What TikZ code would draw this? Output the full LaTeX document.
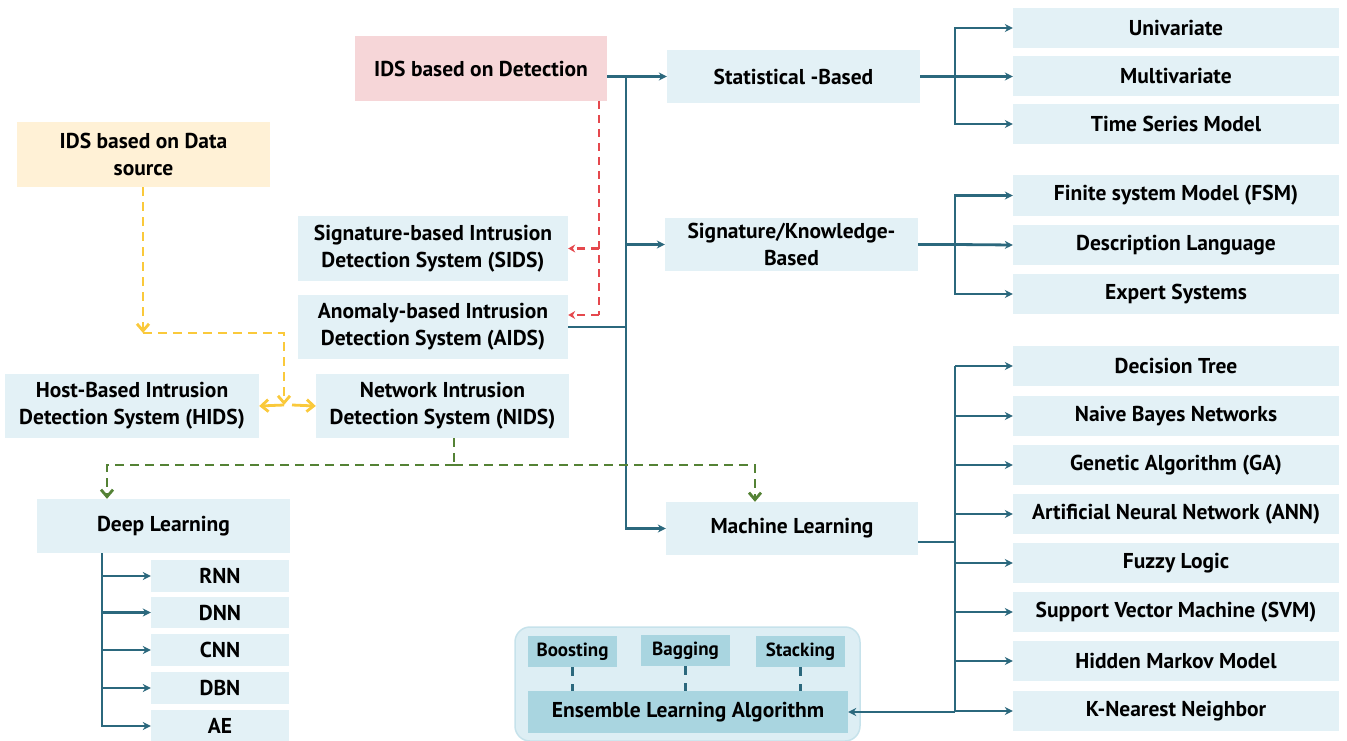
\documentclass[tikz,border=0pt]{standalone}
\usepackage{fontspec}
\setmainfont{PT Sans}
\usetikzlibrary{arrows.meta,positioning}

\definecolor{lineblue}{HTML}{2B687D}
\definecolor{boxblue}{HTML}{E3F1F6}
\definecolor{darkbox}{HTML}{A9D5E0}
\definecolor{groupblue}{HTML}{DDEEF4}
\definecolor{groupedge}{HTML}{C6E2EB}
\definecolor{boxpink}{HTML}{F6D6D8}
\definecolor{boxyellow}{HTML}{FFF1D6}
\definecolor{dashred}{HTML}{E5484D}
\definecolor{dashyellow}{HTML}{FAC93B}
\definecolor{dashgreen}{HTML}{548235}

\begin{document}
\begin{tikzpicture}[x=1pt,y=-1pt,
  box/.style 2 args={fill=boxblue, inner sep=0pt, align=center, minimum width=#1pt, minimum height=#2pt,
    font=\bfseries\fontsize{21.5}{27}\selectfont},
  smallbox/.style={box={89}{31}, fill=darkbox, font=\bfseries\fontsize{19}{22}\selectfont},
  tline/.style={draw=lineblue, line width=2.8pt},
  tarrow/.style={tline, -{Stealth[length=8pt,width=8pt]}},
  rdash/.style={draw=dashred, line width=2.2pt, dash pattern=on 8pt off 6pt, -{Stealth[length=7pt,width=8pt]}},
  ydash/.style={draw=dashyellow, line width=2.8pt, dash pattern=on 9pt off 6pt},
  gdash/.style={draw=dashgreen, line width=2.8pt, dash pattern=on 9pt off 6pt},
  edash/.style={draw=lineblue, line width=2.2pt, dash pattern=on 9pt off 8pt}]
\useasboundingbox (0,0) rectangle (1347,741);

% ensemble group in the background
\node[draw=groupedge, fill=groupblue, line width=1.5pt, rounded corners=15pt, minimum width=345pt, minimum height=114pt] (group) at (687.5,684) {};

% define the boxes on the left
\node[box={252}{65}, fill=boxpink] (det) at (481,68.5) {IDS based on Detection};
\node[box={253}{65}, fill=boxyellow] (data) at (143.5,154.5) {IDS based on Data\\source};
\node[box={270}{65}] (sids) at (433,248.5) {Signature-based Intrusion\\Detection System (SIDS)};
\node[box={270}{64}] (aids) at (433,327) {Anomaly-based Intrusion\\Detection System (AIDS)};
\node[box={254}{64}] (hids) at (132,406) {Host-Based Intrusion\\Detection System (HIDS)};
\node[box={253}{64}] (nids) at (442.5,406) {Network Intrusion\\Detection System (NIDS)};
\node[box={253}{54}] (deep) at (163.5,526) {Deep Learning};
\node[box={138}{32}] (rnn) at (220,576) {RNN};
\node[box={138}{31}] (dnn) at (220,612.5) {DNN};
\node[box={138}{32}] (cnn) at (220,650) {CNN};
\node[box={138}{32}] (dbn) at (220,688) {DBN};
\node[box={138}{32}] (ae) at (220,726) {AE};

% define the middle boxes
\node[box={253}{53}] (stat) at (793.5,76.5) {Statistical -Based};
\node[box={253}{53}] (sig) at (791.5,244.5) {Signature/Knowledge-\\Based};
\node[box={252}{53}] (ml) at (792,528.5) {Machine Learning};

% define the boxes on the right
\node[box={326}{40}] (uni) at (1176,28) {Univariate};
\node[box={326}{40}] (multi) at (1176,76.5) {Multivariate};
\node[box={326}{40}] (tsm) at (1176,124) {Time Series Model};
\node[box={326}{40}] (fsm) at (1176,195.5) {Finite system Model (FSM)};
\node[box={326}{40}] (desc) at (1176,245) {Description Language};
\node[box={326}{40}] (exp) at (1176,294) {Expert Systems};
\node[box={326}{40}] (dt) at (1176,366) {Decision Tree};
\node[box={326}{40}] (nb) at (1176,416) {Naive Bayes Networks};
\node[box={326}{40}] (ga) at (1176,465) {Genetic Algorithm (GA)};
\node[box={326}{40}] (ann) at (1176,514) {Artificial Neural Network (ANN)};
\node[box={326}{40}] (fuzzy) at (1176,563) {Fuzzy Logic};
\node[box={326}{40}] (svm) at (1176,612) {Support Vector Machine (SVM)};
\node[box={326}{40}] (hmm) at (1176,661) {Hidden Markov Model};
\node[box={326}{40}] (knn) at (1176,711) {K-Nearest Neighbor};

% ensemble boxes
\node[smallbox] (boost) at (572.5,651.5) {Boosting};
\node[smallbox] (bag) at (685.5,650.5) {Bagging};
\node[smallbox] (stack) at (800.5,651.5) {Stacking};
\node[box={320}{42}, fill=darkbox] (ens) at (688,712) {Ensemble Learning Algorithm};

% junctions
\coordinate (jt) at (626,76.5);
\coordinate (js) at (955,76.5);
\coordinate (jk) at (955,244.5);
\coordinate (jm) at (955,542);
\coordinate (jd) at (102,553);

% trunk from detection
\draw[tarrow] (det.east |- stat.west) -- (stat.west);
\draw[tarrow] (jt) |- (ml.west);
\draw[tarrow] (jt |- sig.west) -- (sig.west);
\draw[tline] (aids.east) -- (jt |- aids.east);

% statistical branches
\draw[tline] (stat.east) -- (js);
\draw[tarrow] (js) |- (uni.west);
\draw[tarrow] (js) -- (multi.west);
\draw[tarrow] (js) |- (tsm.west);

% knowledge branches
\draw[tline] (sig.east) -- (jk);
\draw[tarrow] (jk) |- (fsm.west);
\draw[tarrow] (jk) -- (desc.west);
\draw[tarrow] (jk) |- (exp.west);

% machine learning branches
\draw[tline] (ml.east |- jm) -- (jm);
\draw[tline] (jm |- dt.west) -- (jm |- knn.west);
\draw[tarrow] (jm |- dt.west) -- (dt.west);
\draw[tarrow] (jm |- nb.west) -- (nb.west);
\draw[tarrow] (jm |- ga.west) -- (ga.west);
\draw[tarrow] (jm |- ann.west) -- (ann.west);
\draw[tarrow] (jm |- fuzzy.west) -- (fuzzy.west);
\draw[tarrow] (jm |- svm.west) -- (svm.west);
\draw[tarrow] (jm |- hmm.west) -- (hmm.west);
\draw[tarrow] (jm |- knn.west) -- (knn.west);
\draw[tarrow] (jm |- ens.east) -- (ens.east);

% deep learning branches
\draw[tarrow] (jd) |- (ae.west);
\draw[tarrow] (jd |- rnn.west) -- (rnn.west);
\draw[tarrow] (jd |- dnn.west) -- (dnn.west);
\draw[tarrow] (jd |- cnn.west) -- (cnn.west);
\draw[tarrow] (jd |- dbn.west) -- (dbn.west);

% red dashed from detection
\coordinate (r1) at (599,101);
\coordinate (r2) at (599,315);
\draw[rdash, -] (r1) -- (r2);
\draw[rdash] (r2) -- (r2 -| aids.east);
\draw[rdash] (r1 |- sids.east) -- (sids.east);

% yellow dashed from data source
\coordinate (y1) at (143,333);
\coordinate (y2) at (284,333);
\coordinate (y3) at (284,405);
\draw[ydash, -{Straight Barb[length=7pt,width=12pt]}] (data.south -| y1) -- (y1);
\draw[ydash, -{Straight Barb[length=7pt,width=12pt]}] (y1) -- (y2) -- (y3);
\draw[ydash, solid, -{Straight Barb[length=7pt,width=12pt]}] (y3) -- (hids.east);
\draw[ydash, solid, -{Straight Barb[length=7pt,width=12pt]}] ([xshift=8pt]y3) -- (nids.west);

% green dashed from network
\coordinate (g1) at (454,465);
\coordinate (g2) at (107,465);
\coordinate (g3) at (755,465);
\draw[gdash] (g1 |- nids.south) -- (g1);
\draw[gdash, -{Straight Barb[length=7pt,width=12pt]}] (g1) -- (g2) -- (g2 |- deep.north);
\draw[gdash, -{Straight Barb[length=7pt,width=12pt]}] (g1) -- (g3) -- (g3 |- ml.north);

% ensemble links
\draw[edash] (boost.south) -- (boost.south |- ens.north);
\draw[edash] (bag.south) -- (bag.south |- ens.north);
\draw[edash] (stack.south) -- (stack.south |- ens.north);
\end{tikzpicture}
\end{document}
